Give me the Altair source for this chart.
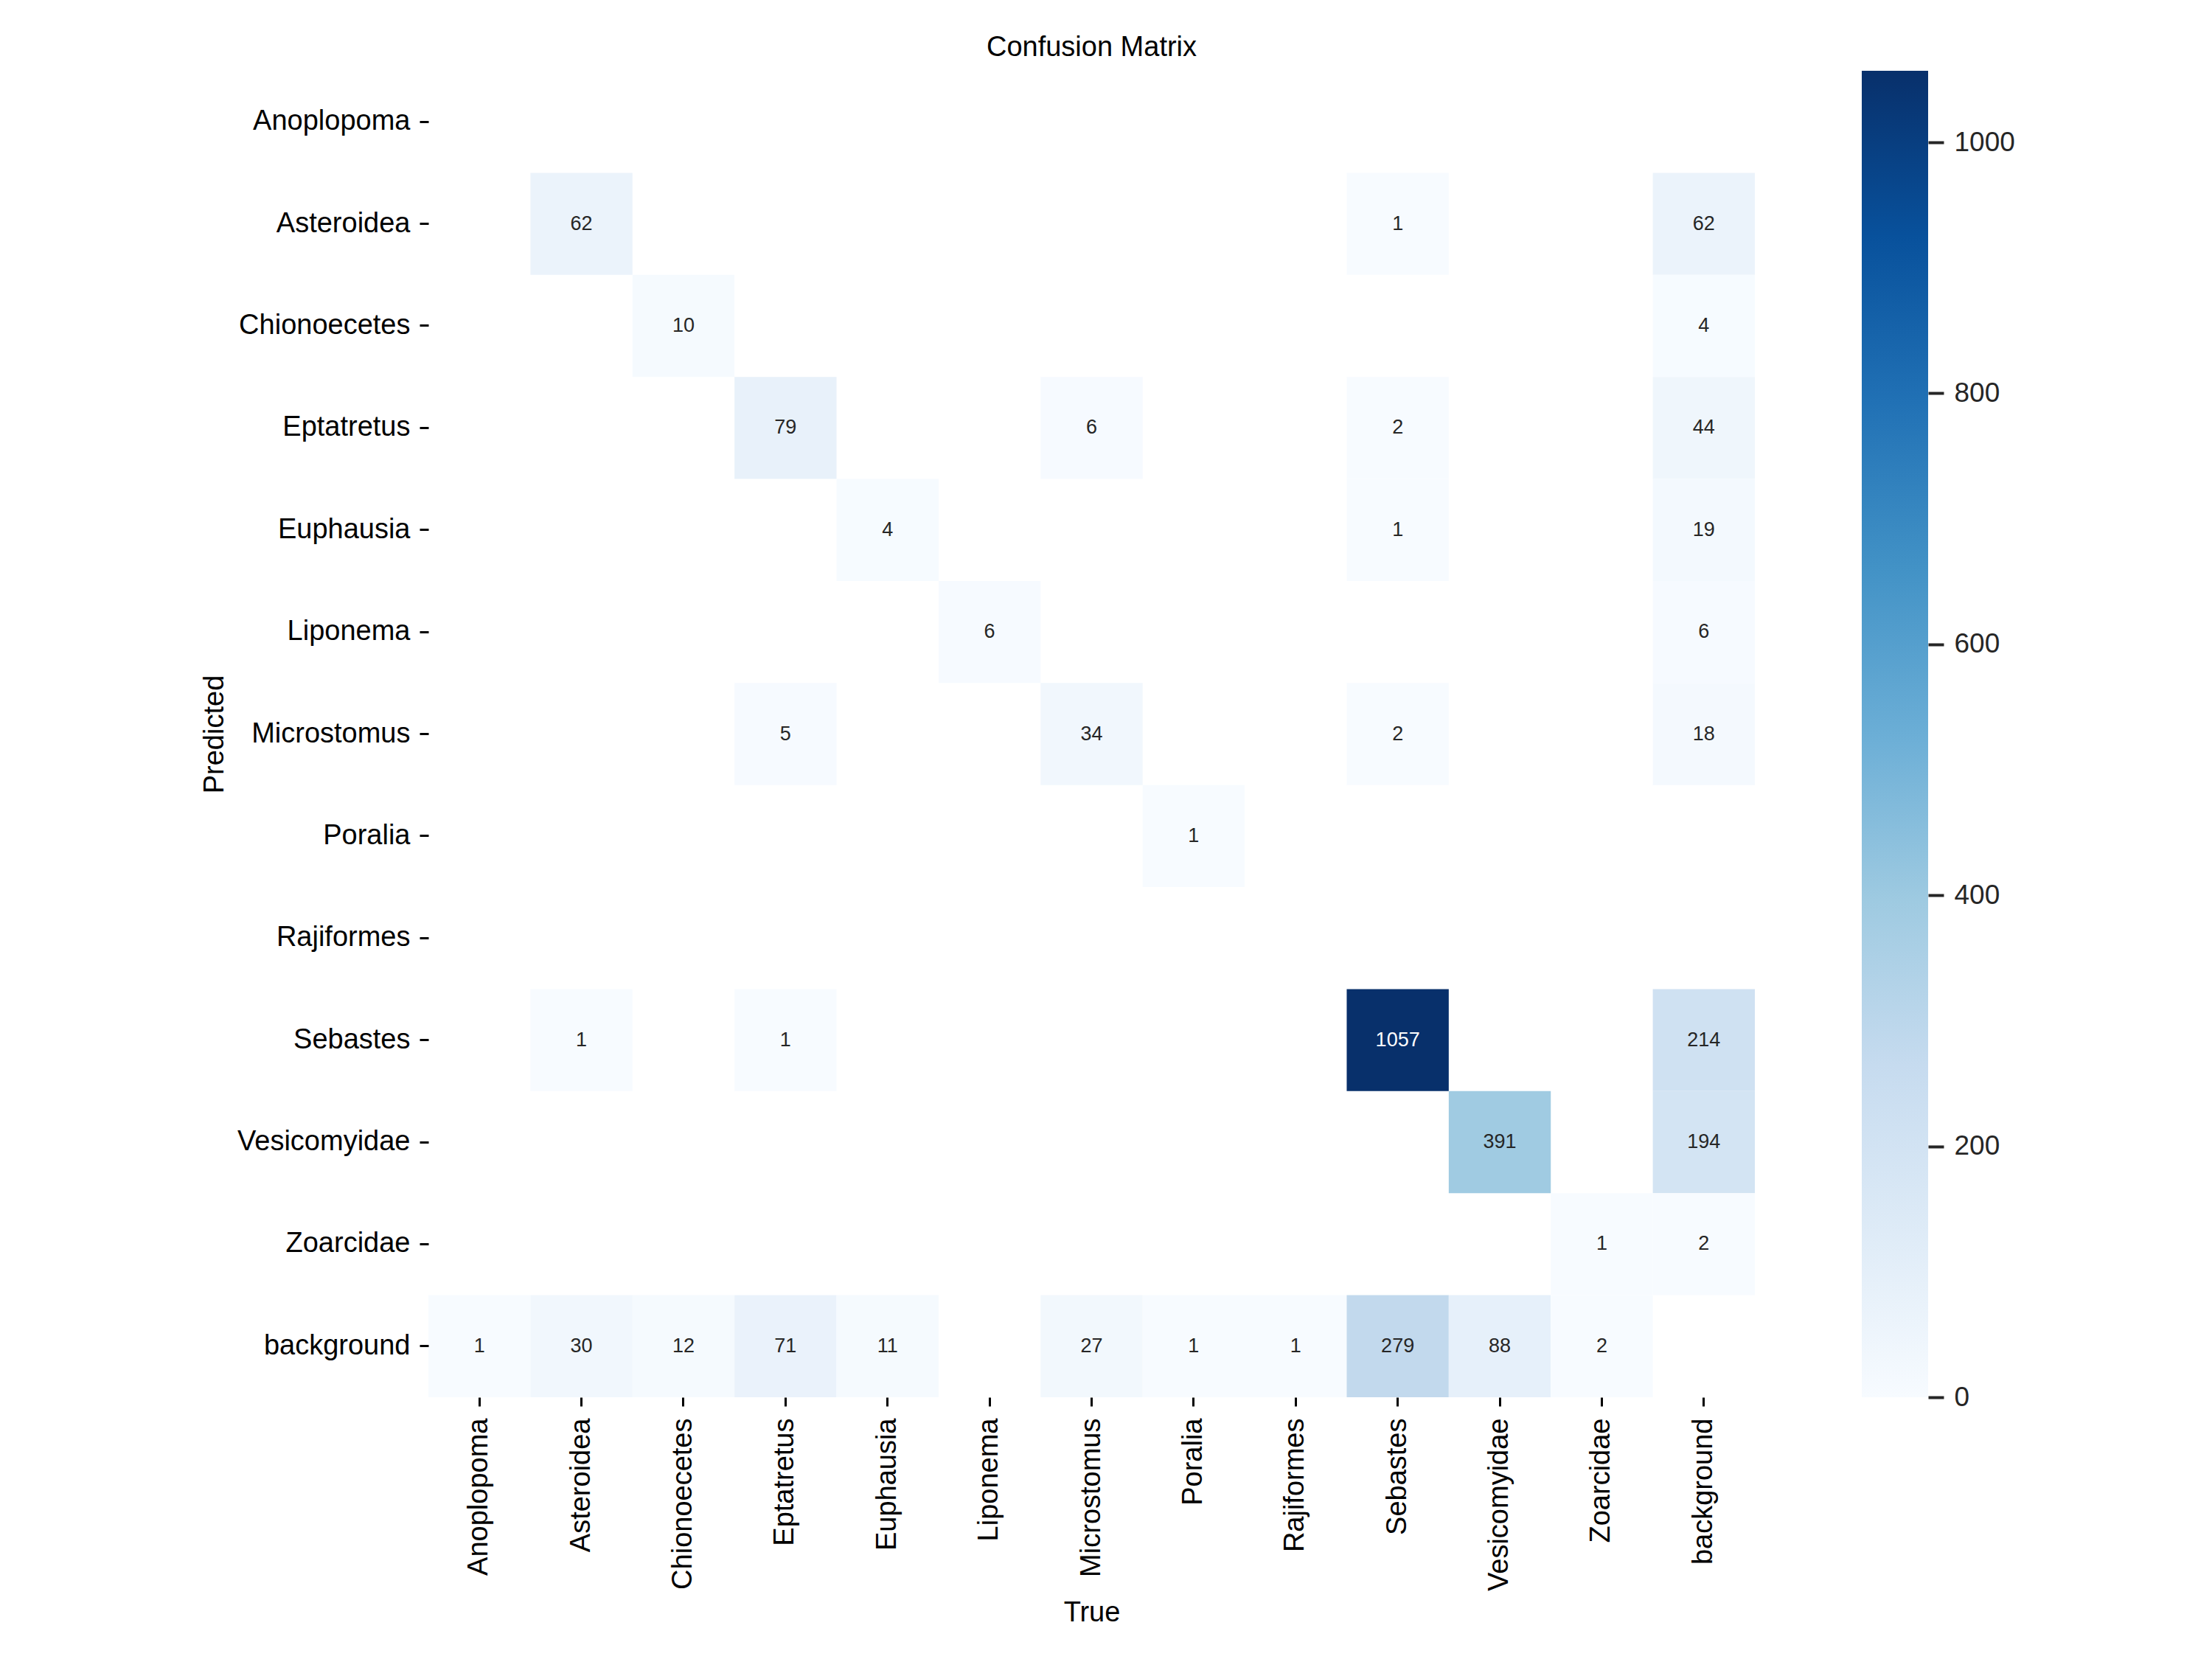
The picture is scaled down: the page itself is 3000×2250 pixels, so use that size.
import altair as alt
import pandas as pd

classes = ["Anoplopoma", "Asteroidea", "Chionoecetes", "Eptatretus", "Euphausia",
           "Liponema", "Microstomus", "Poralia", "Rajiformes", "Sebastes",
           "Vesicomyidae", "Zoarcidae", "background"]

# non-zero cells of the confusion matrix (predicted row, true column, count)
predicted = ["Asteroidea", "Asteroidea", "Asteroidea",
             "Chionoecetes", "Chionoecetes",
             "Eptatretus", "Eptatretus", "Eptatretus", "Eptatretus",
             "Euphausia", "Euphausia", "Euphausia",
             "Liponema", "Liponema",
             "Microstomus", "Microstomus", "Microstomus", "Microstomus",
             "Poralia",
             "Sebastes", "Sebastes", "Sebastes", "Sebastes",
             "Vesicomyidae", "Vesicomyidae",
             "Zoarcidae", "Zoarcidae",
             "background", "background", "background", "background", "background",
             "background", "background", "background", "background", "background",
             "background"]
true_cls = ["Asteroidea", "Sebastes", "background",
            "Chionoecetes", "background",
            "Eptatretus", "Microstomus", "Sebastes", "background",
            "Euphausia", "Sebastes", "background",
            "Liponema", "background",
            "Eptatretus", "Microstomus", "Sebastes", "background",
            "Poralia",
            "Asteroidea", "Eptatretus", "Sebastes", "background",
            "Vesicomyidae", "background",
            "Zoarcidae", "background",
            "Anoplopoma", "Asteroidea", "Chionoecetes", "Eptatretus", "Euphausia",
            "Microstomus", "Poralia", "Rajiformes", "Sebastes", "Vesicomyidae",
            "Zoarcidae"]
counts = [62, 1, 62,
          10, 4,
          79, 6, 2, 44,
          4, 1, 19,
          6, 6,
          5, 34, 2, 18,
          1,
          1, 1, 1057, 214,
          391, 194,
          1, 2,
          1, 30, 12, 71, 11,
          27, 1, 1, 279, 88,
          2]

# matplotlib "Blues" colormap anchor colours
blues = ["#f7fbff", "#deebf7", "#c6dbef", "#9ecae1", "#6baed6",
         "#4292c6", "#2171b5", "#08519c", "#08306b"]
cbar_ticks = [0, 200, 400, 600, 800, 1000]

df = pd.DataFrame({"pred": predicted, "true": true_cls, "count": counts})
vmax = max(counts)
n = len(blues) - 1
stops_domain = [vmax * i / n for i in range(n + 1)]

FONT = "Liberation Sans"
W = 1799
H = 1799

base = alt.Chart(df).encode(
    x=alt.X("true:N", sort=classes, scale=alt.Scale(domain=classes, paddingInner=0, paddingOuter=0),
            axis=alt.Axis(title="True", labelAngle=270, labelAlign="right", labelBaseline="middle",
                          labelFontSize=38, labelFont=FONT, labelColor="black", labelPadding=16,
                          labelLimit=0,
                          tickSize=12, tickWidth=3, tickColor="black", domain=False, grid=False,
                          titleFontSize=38, titleFont=FONT, titleFontWeight="normal", titleColor="black",
                          titleX=W / 2, titleY=303, titleBaseline="alphabetic", titleAlign="center")),
    y=alt.Y("pred:N", sort=classes, scale=alt.Scale(domain=classes, paddingInner=0, paddingOuter=0),
            axis=alt.Axis(title="Predicted", labelFontSize=38, labelFont=FONT, labelColor="black",
                          labelPadding=13, labelLimit=0, tickSize=12, tickWidth=3, tickColor="black",
                          domain=False, grid=False,
                          titleFontSize=38, titleFont=FONT, titleFontWeight="normal", titleColor="black",
                          titleX=-279, titleY=H / 2, titleAngle=270, titleBaseline="alphabetic",
                          titleAlign="center")),
)

rects = base.mark_rect(strokeWidth=0).encode(
    color=alt.Color("count:Q",
                    scale=alt.Scale(domain=stops_domain, range=blues, interpolate="rgb"),
                    legend=None)
)

labels = base.mark_text(fontSize=27, font=FONT, align="center", baseline="middle").encode(
    text=alt.Text("count:Q", format="d"),
    color=alt.condition(alt.datum["count"] > 500, alt.value("white"), alt.value("#262626")),
)

heat = alt.layer(rects, labels)

cb_df = pd.DataFrame({"lo": [0], "hi": [vmax]})
colorbar = alt.Chart(cb_df).mark_rect(
    color=alt.Gradient(
        gradient="linear",
        stops=[alt.GradientStop(color=c, offset=i / n) for i, c in enumerate(blues)],
        x1=0, x2=0, y1=1, y2=0,
    ),
    strokeWidth=0,
).encode(
    x=alt.value(W + 145),
    x2=alt.value(W + 235),
    y=alt.Y("lo:Q", scale=alt.Scale(domain=[0, vmax], nice=False, zero=True),
            axis=alt.Axis(orient="right", offset=235, values=cbar_ticks, title=None, format="d",
                          labelFontSize=37, labelFont=FONT, labelColor="#262626", labelPadding=14,
                          tickSize=21, tickWidth=4, tickColor="#262626", domain=False, grid=False)),
    y2="hi:Q",
)

chart = alt.layer(heat, colorbar).resolve_scale(y="independent").resolve_axis(y="independent").properties(
    width=W,
    height=H,
    title=alt.TitleParams("Confusion Matrix", fontSize=38, font=FONT, fontWeight="normal",
                          color="black", anchor="middle", frame="group", baseline="alphabetic",
                          offset=-18),
    autosize=alt.AutoSizeParams(type="none"),
    padding={"left": 573, "top": 88, "right": 600, "bottom": 340},
    background="white",
).configure_view(stroke=None)

chart.save("out.html", embed_options={"renderer": "svg", "actions": False})
